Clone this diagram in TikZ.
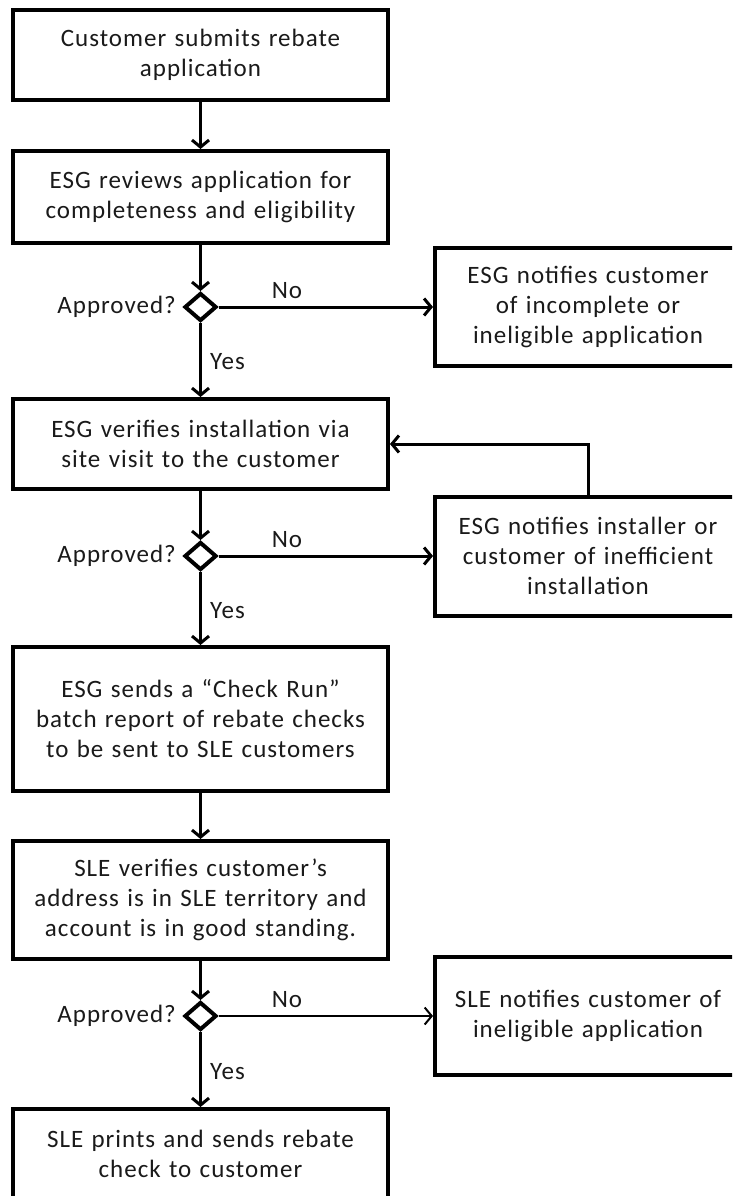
\documentclass[tikz,border=0pt]{standalone}
\usepackage{fontspec}
\setmainfont{Carlito}[LetterSpace=4]
\usetikzlibrary{arrows.meta,shapes.geometric}

\begin{document}
\begin{tikzpicture}[x=1pt, y=-1pt, font=\fontsize{25pt}{30pt}\selectfont]
  % Colors
  \definecolor{blank}{HTML}{ffffff}
  \definecolor{outline}{HTML}{000000}
  \definecolor{ink}{HTML}{1a1a1a}

  % Configurations
  \tikzset{
    stepbox/.style={draw=outline, line width=4pt, fill=blank, text=ink,
      align=center, inner sep=0pt, minimum width=375pt, text width=350pt,
      minimum height=#1},
    notebox/.style={stepbox=#1, minimum width=306pt, text width=290pt},
    decision/.style={diamond, draw=outline, line width=4pt, fill=blank,
      inner sep=0pt, minimum width=32pt, minimum height=28pt},
    flow/.style={line width=3pt, draw=outline,
      -{Straight Barb[length=7pt, width=17pt]}},
    tag/.style={text=ink, inner sep=0pt}
  }

  % Bounding box
  \clip [preaction={fill=blank}] (0,0) rectangle (732,1196);

  % Main steps
  \node (submit) [stepbox=90pt] at (200.5,55) {Customer submits rebate\\application};
  \node (review) [stepbox=92pt] at (200.5,197) {ESG reviews application for\\completeness and eligibility};
  \node (visit) [stepbox=90pt] at (200.5,444) {ESG verifies installation via\\site visit to the customer};
  \node (batch) [stepbox=144pt] at (200.5,719) {ESG sends a “Check Run”\\batch report of rebate checks\\to be sent to SLE customers};
  \node (verify) [stepbox=118pt] at (200.5,900) {SLE verifies customer’s\\address is in SLE territory and\\account is in good standing.};
  \node (print) [stepbox=90pt] at (200.5,1154) {SLE prints and sends rebate\\check to customer};

  % Decisions
  \node (check1) [decision] at (200.5,307) {};
  \node (check2) [decision] at (200.5,556) {};
  \node (check3) [decision] at (200.5,1016) {};
  \node (ask1) [tag, anchor=east] at (176,307) {Approved?};
  \node (ask2) [tag, anchor=east] at (176,556) {Approved?};
  \node (ask3) [tag, anchor=east] at (176,1016) {Approved?};

  % Side notices
  \node (incomplete) [notebox=118pt] at (588,307) {ESG notifies customer\\of incomplete or\\ineligible application};
  \node (inefficient) [notebox=119pt] at (588,556) {ESG notifies installer or\\customer of inefficient\\installation};
  \node (ineligible) [notebox=118pt] at (588,1016) {SLE notifies customer of\\ineligible application};

  % Connectors
  \draw [flow] (submit) -- (review);
  \draw [flow] (review) -- (check1);
  \draw [flow] (check1) -- (visit);
  \draw [flow] (check1) -- (incomplete);
  \draw [flow] (visit) -- (check2);
  \draw [flow] (check2) -- (batch);
  \draw [flow] (check2) -- (inefficient);
  \draw [flow] (inefficient.north) |- (visit.east);
  \draw [flow] (batch) -- (verify);
  \draw [flow] (verify) -- (check3);
  \draw [flow] (check3) -- (print);
  \draw [flow, line width=2pt] (check3) -- (ineligible);

  % Branch labels
  \node (no1) [tag] at (287,291) {No};
  \node (yes1) [tag, anchor=west] at (210,362) {Yes};
  \node (no2) [tag] at (287,540) {No};
  \node (yes2) [tag, anchor=west] at (210,611) {Yes};
  \node (no3) [tag] at (287,1000) {No};
  \node (yes3) [tag, anchor=west] at (210,1072) {Yes};
\end{tikzpicture}
\end{document}
